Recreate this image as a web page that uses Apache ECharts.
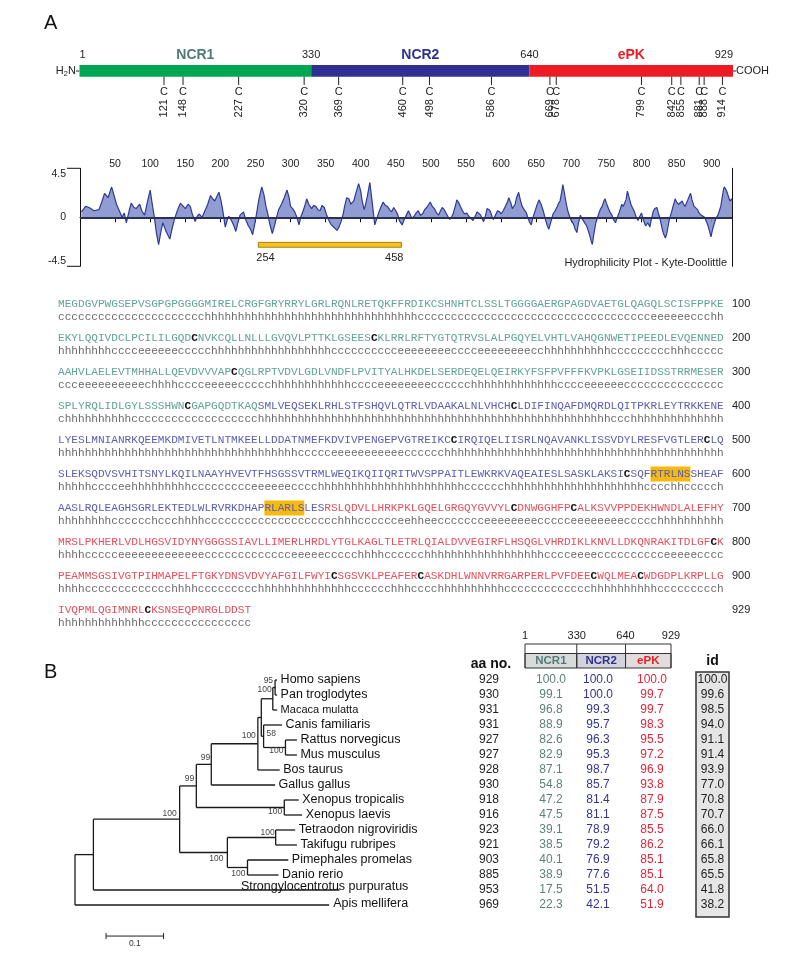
<!DOCTYPE html>
<html>
<head>
<meta charset="utf-8">
<script src="https://cdn.jsdelivr.net/npm/echarts@6.0.0/dist/echarts.min.js"></script>
<style>html,body{margin:0;padding:0;background:#fff}#c{width:794px;height:964px}</style>
</head>
<body>
<div id="c"></div>
<script>
// ---------------- DATA ----------------
const domainNames = ['NCR1', 'NCR2', 'ePK'];
const domainBounds = [1, 330, 640, 929];
const cysPositions = [121, 148, 227, 320, 369, 460, 498, 586, 669, 678, 799, 842, 855, 881, 888, 914];
const rulerTicks = [50, 100, 150, 200, 250, 300, 350, 400, 450, 500, 550, 600, 650, 700, 750, 800, 850, 900];
const hydroLimits = [-4.5, 4.5];
const hydroRange = [254, 458];
const hydroProfile = [
 [2,0.5],[8,1.0],[13,0.9],[20,0.6],[27,0.7],[31,1.4],[35,2.2],[40,1.8],[45,2.8],[49,1.9],[52,1.2],[56,0.6],[60,0.0],[63,0.4],[66,-0.5],[70,0.6],[73,1.3],[77,0.9],[80,0.8],[85,1.2],[88,0.6],[92,0.2],[96,1.4],[100,2.5],[103,1.2],[106,0.0],[109,-1.5],[112,-2.5],[115,-1.4],[118,-0.5],[122,-1.2],[125,-1.6],[128,-2.0],[131,-1.1],[134,-0.3],[138,0.5],[143,1.3],[146,1.1],[150,0.8],[154,1.2],[157,1.0],[160,0.3],[164,-0.4],[167,0.1],[170,0.3],[174,0.0],[178,0.6],[182,1.2],[186,2.0],[189,1.7],[192,1.5],[195,1.9],[198,2.3],[201,1.5],[203,0.8],[207,-0.9],[210,-0.2],[212,0.1],[215,-0.2],[218,-0.6],[220,-0.9],[222,-1.3],[225,-0.5],[228,0.2],[233,0.5],[236,-0.2],[240,-0.8],[243,-1.1],[246,-1.6],[249,-0.6],[252,0.5],[255,1.7],[259,2.8],[262,2.1],[265,1.0],[268,0.2],[270,-0.5],[274,-1.5],[277,-0.8],[280,0.0],[283,0.7],[287,1.2],[291,1.8],[295,2.5],[298,1.8],[300,1.0],[303,0.8],[306,0.5],[309,0.0],[312,-0.7],[315,0.1],[318,0.6],[321,1.2],[323,1.7],[326,1.2],[330,0.8],[333,1.1],[336,1.0],[339,0.7],[342,0.6],[345,1.1],[348,0.9],[351,0.3],[354,-0.2],[357,-0.6],[360,-0.8],[363,-1.0],[366,-1.2],[369,-0.9],[372,-0.4],[375,0.3],[377,1.0],[380,1.8],[383,1.7],[386,1.2],[390,1.5],[393,2.2],[397,3.1],[400,2.4],[402,1.5],[405,0.7],[407,1.2],[409,1.8],[411,2.5],[413,3.2],[415,2.1],[417,1.0],[420,-0.7],[423,-0.1],[426,0.5],[429,1.0],[432,1.4],[435,1.1],[438,1.0],[441,0.7],[444,0.5],[447,0.9],[450,0.6],[453,0.2],[455,-0.3],[459,-0.7],[462,-0.2],[465,0.2],[468,0.6],[470,0.5],[473,-0.1],[476,0.1],[479,0.4],[482,0.6],[485,0.2],[488,0.3],[491,0.7],[494,0.9],[497,1.2],[499,1.4],[502,1.0],[505,0.8],[508,0.4],[511,0.2],[513,0.5],[516,0.9],[519,0.7],[521,0.6],[524,0.1],[527,-0.2],[530,0.1],[532,0.4],[535,1.1],[537,1.6],[540,1.3],[542,1.0],[545,0.6],[548,0.3],[551,0.4],[554,0.1],[557,-0.1],[560,-0.3],[563,0.1],[566,0.5],[568,0.4],[571,0.2],[573,-0.1],[575,-0.4],[578,0.2],[580,0.8],[583,0.7],[585,0.5],[587,0.1],[589,-0.2],[592,0.2],[595,0.6],[598,0.5],[600,0.3],[603,0.6],[606,1.0],[609,1.4],[611,1.8],[614,1.3],[616,0.8],[618,0.9],[620,1.2],[622,1.8],[625,2.3],[627,1.7],[630,1.0],[633,0.7],[636,0.4],[639,-0.2],[641,-0.5],[643,-0.7],[645,-0.1],[648,0.5],[651,1.1],[654,1.6],[657,1.2],[660,0.6],[662,0.1],[664,-0.4],[666,-0.8],[668,-1.1],[671,-0.4],[674,0.3],[677,0.6],[680,1.0],[682,1.3],[684,1.5],[686,2.2],[688,3.0],[690,2.3],[693,1.2],[695,0.6],[698,0.0],[700,-0.3],[703,-0.6],[705,-1.0],[708,-1.4],[710,-0.6],[713,0.2],[715,-0.1],[718,-0.4],[720,-0.6],[722,-0.8],[724,-1.2],[726,-1.6],[728,-2.1],[730,-2.5],[732,-1.6],[735,-0.5],[738,0.1],[740,0.5],[742,0.8],[744,1.0],[746,1.4],[748,1.7],[750,1.3],[753,0.8],[755,0.5],[758,0.2],[760,-0.2],[763,-0.5],[765,-0.1],[768,0.4],[770,0.8],[772,1.2],[774,1.0],[776,0.9],[778,1.6],[780,2.4],[782,1.9],[785,1.2],[787,0.9],[790,0.5],[792,0.1],[795,-0.3],[797,0.0],[800,0.4],[803,-0.3],[806,-0.8],[809,-0.5],[812,-0.9],[814,-0.2],[817,0.6],[819,0.8],[822,0.9],[824,0.4],[826,0.0],[828,-0.6],[830,-1.2],[832,-1.6],[834,-1.9],[836,-1.5],[838,-0.8],[840,-0.1],[843,0.5],[845,1.0],[848,1.7],[850,1.4],[853,1.2],[855,1.3],[858,1.5],[860,1.2],[862,1.0],[864,1.3],[866,1.6],[868,1.9],[870,2.2],[872,1.6],[875,1.0],[877,0.9],[880,0.7],[882,0.4],[885,0.2],[887,0.3],[890,0.0],[892,-0.3],[895,-0.8],[897,-1.3],[899,-1.8],[901,-1.2],[904,-0.5],[906,-0.1],[909,0.2],[911,0.6],[913,1.0],[915,1.8],[917,2.6],[918,2.8],[920,2.6],[922,2.3],[924,1.9],[926,1.5],[929,1.7]
];
const sequenceRows = [
 'MEGDGVPWGSEPVSGPGPGGGGMIRELCRGFGRYRRYLGRLRQNLRETQKFFRDIKCSHNHTCLSSLTGGGGAERGPAGDVAETGLQAGQLSCISFPPKE',
 'EKYLQQIVDCLPCILILGQDCNVKCQLLNLLLGVQVLPTTKLGSEESCKLRRLRFTYGTQTRVSLALPGQYELVHTLVAHQGNWETIPEEDLEVQENNED',
 'AAHVLAELEVTMHHALLQEVDVVVAPCQGLRPTVDVLGDLVNDFLPVITYALHKDELSERDEQELQEIRKYFSFPVFFFKVPKLGSEIIDSSTRRMESER',
 'SPLYRQLIDLGYLSSSHWNCGAPGQDTKAQSMLVEQSEKLRHLSTFSHQVLQTRLVDAAKALNLVHCHCLDIFINQAFDMQRDLQITPKRLEYTRKKENE',
 'LYESLMNIANRKQEEMKDMIVETLNTMKEELLDDATNMEFKDVIVPENGEPVGTREIKCCIRQIQELIISRLNQAVANKLISSVDYLRESFVGTLERCLQ',
 'SLEKSQDVSVHITSNYLKQILNAAYHVEVTFHSGSSVTRMLWEQIKQIIQRITWVSPPAITLEWKRKVAQEAIESLSASKLAKSICSQFRTRLNSSHEAF',
 'AASLRQLEAGHSGRLEKTEDLWLRVRKDHAPRLARLSLESRSLQDVLLHRKPKLGQELGRGQYGVVYLCDNWGGHFPCALKSVVPPDEKHWNDLALEFHY',
 'MRSLPKHERLVDLHGSVIDYNYGGGSSIAVLLIMERLHRDLYTGLKAGLTLETRLQIALDVVEGIRFLHSQGLVHRDIKLKNVLLDKQNRAKITDLGFCK',
 'PEAMMSGSIVGTPIHMAPELFTGKYDNSVDVYAFGILFWYICSGSVKLPEAFERCASKDHLWNNVRRGARPERLPVFDEECWQLMEACWDGDPLKRPLLG',
 'IVQPMLQGIMNRLCKSNSEQPNRGLDDST'
];
// secondary structure prediction, run-length encoded (count + state)
const structureRuns = [
 '22c32h35c6e3c2h',
 '8h4c6e5c18h10c8e4c8e2c10h9c3h5c',
 '3c10e1c4h4c5e5c12h4c8e6c13h4c6e15c',
 '1c10h19c53h3c14h',
 '36h5c11e6c42h',
 '5h4c2e9h9c6e4c22h6c21h4c2h5c1h',
 '8h6c1h3c4h20c3h6c2e2h2e7c8e5c8e5c10h',
 '4h5c13e13c5e5c4h6c18h4c4e10c5e4c',
 '4h13c4h9c14h6c3h4c10h13c10h9c1h',
 '13h16c'
];
const highlightRanges = [[590, 595], [632, 637]];

const species = ['Homo sapiens','Pan troglodytes','Macaca mulatta','Canis familiaris','Rattus norvegicus','Mus musculus','Bos taurus','Gallus gallus','Xenopus tropicalis','Xenopus laevis','Tetraodon nigroviridis','Takifugu rubripes','Pimephales promelas','Danio rerio','Strongylocentrotus purpuratus','Apis mellifera'];
const aaLength   = [929, 930, 931, 931, 927, 927, 928, 930, 918, 916, 923, 921, 903, 885, 953, 969];
const identNCR1  = [100.0, 99.1, 96.8, 88.9, 82.6, 82.9, 87.1, 54.8, 47.2, 47.5, 39.1, 38.5, 40.1, 38.9, 17.5, 22.3];
const identNCR2  = [100.0, 100.0, 99.3, 95.7, 96.3, 95.3, 98.7, 85.7, 81.4, 81.1, 78.9, 79.2, 76.9, 77.6, 51.5, 42.1];
const identEPK   = [100.0, 99.7, 99.7, 98.3, 95.5, 97.2, 96.9, 93.8, 87.9, 87.5, 85.5, 86.2, 85.1, 85.1, 64.0, 51.9];
const identTotal = [100.0, 99.6, 98.5, 94.0, 91.1, 91.4, 93.9, 77.0, 70.8, 70.7, 66.0, 66.1, 65.8, 65.5, 41.8, 38.2];

const treeNodes = ['root','n1','Apis mellifera','nv','Strongylocentrotus purpuratus','nt','nfish','na','nx','nm','Gallus gallus','nq','Bos taurus','nprim','n58','nhp','Macaca mulatta','Homo sapiens','Pan troglodytes','Canis familiaris','nrod','Rattus norvegicus','Mus musculus','Xenopus tropicalis','Xenopus laevis','ntt','npd','Tetraodon nigroviridis','Takifugu rubripes','Pimephales promelas','Danio rerio'];
const treeParents = [null,'root','root','n1','n1','nv','nv','nt','nt','na','na','nm','nm','nq','nq','nprim','nprim','nhp','nhp','n58','n58','nrod','nrod','nx','nx','nfish','nfish','ntt','ntt','npd','npd'];
const branchLengths = [0,0.032,0.442,0.150,0.428,0.029,0.083,0.026,0.153,0.081,0.111,0.006,0.038,0.020,0.004,0.004,0.0075,0.0035,0.0035,0.032,0.038,0.020,0.020,0.025,0.031,0.084,0.035,0.034,0.037,0.071,0.054];
const bootstrapNodes = ['nv','nt','na','nm','nprim','nhp','n58','nrod','nx','nfish','ntt','npd'];
const bootstrapValues = [100, 99, 99, 100, 100, 95, 58, 100, 100, 100, 100, 100];
const scaleBarLength = 0.1;

// ---------------- STYLE / LAYOUT ----------------
const SANS = "'Liberation Sans', Arial, Helvetica, sans-serif";
const MONO = "'Liberation Mono', 'Courier New', monospace";
const barColors = ['#00a651', '#2e3192', '#ed1c24'];
const nameColors = ['#4f7d76', '#2e3192', '#ed1c24'];
const seqColors = ['#62a395', '#5b5eae', '#e5505d'];
const tableColors = ['#222', '#5e807a', '#34348f', '#e3263a', '#222'];
const cellFill = ['#d9dbdb', '#d3d3dc', '#e2dcdc'];
const tableColX = [489, 551, 598, 652, 712.5];
const bootLayout = {nhp:[-2,-7,'right'], nprim:[-1,-9,'right'], n58:[3,-3,'left'], nrod:[-2,3,'right'], nm:[-2,-8,'right'], na:[-1,-7,'right'], nt:[-2,-7,'right'], nx:[-2,4,'right'], nv:[-3,-6,'right'], ntt:[-1,-5,'right'], nfish:[-4,6,'right'], npd:[-2,6,'right']};
const leafLabelShift = {'Strongylocentrotus purpuratus':[-98.6,-3.5], 'Apis mellifera':[4,-1]};
const leafFont = {'Macaca mulatta': 11};

const structureRows = structureRuns.map(s => s.replace(/(\d+)([a-z])/g, (m, n, ch) => ch.repeat(+n)));

// tree layout
const nIdx = {}; treeNodes.forEach((n, i) => nIdx[n] = i);
const kids = treeNodes.map(() => []);
treeParents.forEach((p, i) => { if (p) kids[nIdx[p]].push(i); });
const nodeX = [], nodeY = [];
(function layX(i, acc) { nodeX[i] = acc + branchLengths[i]; kids[i].forEach(c => layX(c, nodeX[i])); })(0, 0);
(function layY(i) {
  if (!kids[i].length) { nodeY[i] = species.indexOf(treeNodes[i]); return nodeY[i]; }
  const ys = kids[i].map(layY);
  nodeY[i] = (Math.min(...ys) + Math.max(...ys)) / 2; return nodeY[i];
})(0);

function rowRich(r) {
  const seq = sequenceRows[r], start = r * 100 + 1;
  let out = '', cur = null, buf = '';
  for (let k = 0; k < seq.length; k++) {
    const pos = start + k;
    let st;
    if (cysPositions.includes(pos)) st = 'cy';
    else if (highlightRanges.some(h => pos >= h[0] && pos <= h[1])) st = 'hl';
    else st = pos <= domainBounds[1] ? 'd1' : (pos <= domainBounds[2] ? 'd2' : 'd3');
    if (st !== cur) { if (buf) out += '{' + cur + '|' + buf + '}'; cur = st; buf = ''; }
    buf += seq[k];
  }
  if (buf) out += '{' + cur + '|' + buf + '}';
  return out;
}
const SEQ_FS = 11.1;
const seqRich = {
  d1: {fill: seqColors[0], fontFamily: MONO, fontSize: SEQ_FS},
  d2: {fill: seqColors[1], fontFamily: MONO, fontSize: SEQ_FS},
  d3: {fill: seqColors[2], fontFamily: MONO, fontSize: SEQ_FS},
  cy: {fill: '#111', fontFamily: MONO, fontSize: SEQ_FS, fontWeight: 'bold'},
  hl: {fill: seqColors[1], fontFamily: MONO, fontSize: SEQ_FS, backgroundColor: '#f7b90f', padding: [2, 0, 2, 0]}
};

const chart = echarts.init(document.getElementById('c'), null, {renderer: 'canvas', width: 794, height: 964});

const lineStyle = {stroke: '#1a1a1a', lineWidth: 1.3};

const option = {
  backgroundColor: '#fff',
  animation: false,
  grid: [
    {left: 79.5, right: 61, top: 65, height: 11.7},          // 0 domain bar
    {left: 80, right: 62, top: 168.3, height: 98},           // 1 hydrophilicity
    {left: 58, right: 70, top: 304, height: 306},            // 2 sequence
    {left: 75, width: 575, top: 680, height: 225},           // 3 tree
    {left: 0, right: 0, top: 680, height: 225},              // 4 table
    {left: 525, width: 146, top: 644, height: 24}            // 5 table header
  ],
  xAxis: [
    {gridIndex: 0, type: 'value', min: 1, max: 929, show: false},
    {gridIndex: 1, type: 'value', min: 0, max: 929, interval: 50, position: 'top', offset: 15,
     axisLine: {show: true, lineStyle: {color: '#111', width: 1}},
     axisTick: {show: true, inside: true, length: 5, lineStyle: {color: '#111'}},
     axisLabel: {inside: true, margin: 5, fontSize: 10.5, fontFamily: SANS, color: '#222',
       formatter: v => rulerTicks.includes(v) ? String(v) : ''},
     splitLine: {show: false}},
    {gridIndex: 2, type: 'value', min: 0, max: 100, show: false},
    {gridIndex: 3, type: 'value', min: 0, max: 1, show: false},
    {gridIndex: 4, type: 'value', min: 0, max: 794, show: false},
    {gridIndex: 5, type: 'value', min: 1, max: 929, show: false}
  ],
  yAxis: [
    {gridIndex: 0, type: 'value', min: 0, max: 1, show: false},
    {gridIndex: 1, type: 'value', min: -4.5, max: 4.5, interval: 4.5,
     axisLine: {show: true, lineStyle: {color: '#111', width: 1}},
     axisTick: {show: false},
     axisLabel: {margin: 14, fontSize: 10.5, fontFamily: SANS, color: '#222',
       verticalAlignMinLabel: 'bottom', verticalAlignMaxLabel: 'top'},
     splitLine: {show: false}},
    {gridIndex: 1, type: 'value', min: -4.5, max: 4.5, position: 'right',
     axisLine: {show: true, lineStyle: {color: '#111', width: 1}},
     axisTick: {show: false}, axisLabel: {show: false}, splitLine: {show: false}},
    {gridIndex: 2, type: 'value', min: 0, max: 9, inverse: true, show: false},
    {gridIndex: 3, type: 'value', min: 0, max: 15, inverse: true, show: false},
    {gridIndex: 4, type: 'value', min: 0, max: 15, inverse: true, show: false},
    {gridIndex: 5, type: 'value', min: 0, max: 1, show: false}
  ],
  graphic: [
    {type: 'text', x: 44, y: 23, style: {text: 'A', font: '20px ' + SANS, fill: '#111', verticalAlign: 'middle'}},
    {type: 'text', x: 44, y: 672.5, style: {text: 'B', font: '20px ' + SANS, fill: '#111', verticalAlign: 'middle'}},
    {type: 'text', x: 76, y: 71, style: {text: '{a|H}{b|2}{a|N}', align: 'right', verticalAlign: 'middle',
      rich: {a: {fontSize: 11, fontFamily: SANS, fill: '#222'}, b: {fontSize: 8, fontFamily: SANS, fill: '#222', padding: [5, 0, 0, 0]}}}},
    {type: 'line', shape: {x1: 76, y1: 71, x2: 79.5, y2: 71}, style: {stroke: '#222', lineWidth: 1}},
    {type: 'line', shape: {x1: 733, y1: 71, x2: 736, y2: 71}, style: {stroke: '#222', lineWidth: 1}},
    {type: 'text', x: 736, y: 71, style: {text: 'COOH', font: '11px ' + SANS, fill: '#222', verticalAlign: 'middle'}},
    {type: 'text', x: 727, y: 262.7, style: {text: 'Hydrophilicity Plot - Kyte-Doolittle', font: '11px ' + SANS, fill: '#222', align: 'right', verticalAlign: 'middle'}},
    {type: 'text', x: 491, y: 664, style: {text: 'aa no.', font: 'bold 14px ' + SANS, fill: '#111', align: 'center', verticalAlign: 'middle'}},
    {type: 'text', x: 712.5, y: 661, style: {text: 'id', font: 'bold 14px ' + SANS, fill: '#111', align: 'center', verticalAlign: 'middle'}}
  ],
  series: [
    // domain bar
    {type: 'custom', xAxisIndex: 0, yAxisIndex: 0, silent: true,
     data: domainNames.map((n, k) => [domainBounds[k], domainBounds[k + 1], k]),
     renderItem: (params, api) => {
       const s = api.value(0), e = api.value(1), k = api.value(2);
       const tl = api.coord([s, 1]), br = api.coord([e, 0]);
       const ch = [
         {type: 'rect', shape: {x: tl[0], y: tl[1], width: br[0] - tl[0], height: br[1] - tl[1]}, style: {fill: barColors[k]}},
         {type: 'text', x: (tl[0] + br[0]) / 2, y: tl[1] - 10, style: {text: domainNames[k], font: 'bold 14px ' + SANS, fill: nameColors[k], align: 'center', verticalAlign: 'middle'}},
         {type: 'text', x: tl[0], y: tl[1] - 10, style: {text: String(s), font: '11px ' + SANS, fill: '#222', align: k === 0 ? 'left' : 'center', verticalAlign: 'middle'}}
       ];
       if (k === domainNames.length - 1) ch.push({type: 'text', x: br[0], y: tl[1] - 10, style: {text: String(e), font: '11px ' + SANS, fill: '#222', align: 'right', verticalAlign: 'middle'}});
       return {type: 'group', children: ch};
     }},
    // cysteines
    {type: 'custom', xAxisIndex: 0, yAxisIndex: 0, silent: true,
     data: cysPositions.map(c => [c, 0]),
     renderItem: (params, api) => {
       const p = api.coord([api.value(0), 0]);
       return {type: 'group', children: [
         {type: 'line', shape: {x1: p[0], y1: p[1], x2: p[0], y2: p[1] + 8.3}, style: {stroke: '#222', lineWidth: 1}},
         {type: 'text', x: p[0], y: p[1] + 15, style: {text: 'C', font: '11px ' + SANS, fill: '#222', align: 'center', verticalAlign: 'middle'}},
         {type: 'text', x: p[0], y: p[1] + 31.5, rotation: Math.PI / 2, style: {text: String(api.value(0)), font: '11px ' + SANS, fill: '#222', align: 'center', verticalAlign: 'middle'}}
       ]};
     }},
    // hydrophilicity
    {type: 'line', xAxisIndex: 1, yAxisIndex: 1, data: hydroProfile, symbol: 'none', silent: true,
     lineStyle: {color: '#2d3a96', width: 1.2},
     areaStyle: {color: '#8591cd', opacity: 0.9},
     markLine: {silent: true, symbol: ['none', 'none'], label: {show: false},
       lineStyle: {color: '#2b2f55', width: 2, type: 'solid'}, data: [{yAxis: 0}]},
     markArea: {silent: true, label: {show: false},
       itemStyle: {color: '#f6c21c', borderColor: '#a8800c', borderWidth: 1, opacity: 1},
       data: [[{xAxis: hydroRange[0], yAxis: -2.3}, {xAxis: hydroRange[1], yAxis: -2.75}]]}},
    // y-axis bracket ticks at the limits
    {type: 'custom', xAxisIndex: 1, yAxisIndex: 1, silent: true,
     data: hydroLimits.map(v => [0, v]),
     renderItem: (params, api) => {
       const p = api.coord([0, api.value(1)]);
       return {type: 'line', shape: {x1: p[0] - 13, y1: p[1], x2: p[0], y2: p[1]}, style: {stroke: '#111', lineWidth: 1}};
     }},
    {type: 'custom', xAxisIndex: 1, yAxisIndex: 1, silent: true,
     data: hydroRange.map((v, i) => [v, -3.69, i]),
     renderItem: (params, api) => {
       const p = api.coord([api.value(0), api.value(1)]);
       return {type: 'text', x: p[0] + (api.value(2) === 0 ? -2 : 2), y: p[1], style: {text: String(api.value(0)), font: '11px ' + SANS, fill: '#222', align: api.value(2) === 0 ? 'left' : 'right', verticalAlign: 'middle'}};
     }},
    // sequence
    {type: 'custom', xAxisIndex: 2, yAxisIndex: 3, silent: true,
     data: sequenceRows.map((s, i) => [0, i]),
     renderItem: (params, api) => {
       const r = api.value(1);
       const p = api.coord([0, r]);
       const pe = api.coord([100, r]);
       const endNo = r * 100 + sequenceRows[r].length;
       return {type: 'group', children: [
         {type: 'text', x: p[0], y: p[1], style: {text: rowRich(r), rich: seqRich, align: 'left', verticalAlign: 'middle', fontFamily: MONO, fontSize: SEQ_FS}},
         {type: 'text', x: p[0], y: p[1] + 12.8, style: {text: structureRows[r], fill: '#6a6a6a', fontFamily: MONO, fontSize: SEQ_FS, align: 'left', verticalAlign: 'middle'}},
         {type: 'text', x: pe[0] + 8, y: p[1], style: {text: String(endNo), font: '11px ' + SANS, fill: '#222', align: 'left', verticalAlign: 'middle'}}
       ]};
     }},
    // tree
    {type: 'custom', xAxisIndex: 3, yAxisIndex: 4, silent: true,
     data: treeNodes.map((n, i) => [nodeX[i], nodeY[i], i]),
     renderItem: (params, api) => {
       const i = api.value(2);
       const p = api.coord([nodeX[i], nodeY[i]]);
       const ch = [];
       if (treeParents[i]) {
         const pp = api.coord([nodeX[nIdx[treeParents[i]]], nodeY[i]]);
         ch.push({type: 'line', shape: {x1: pp[0], y1: p[1], x2: p[0], y2: p[1]}, style: lineStyle});
       }
       if (kids[i].length) {
         const ys = kids[i].map(c => nodeY[c]);
         const a = api.coord([nodeX[i], Math.min(...ys)]), b = api.coord([nodeX[i], Math.max(...ys)]);
         ch.push({type: 'line', shape: {x1: p[0], y1: a[1], x2: p[0], y2: b[1]}, style: lineStyle});
         const bi = bootstrapNodes.indexOf(treeNodes[i]);
         if (bi >= 0) {
           const L = bootLayout[treeNodes[i]];
           ch.push({type: 'text', x: p[0] + L[0], y: p[1] + L[1], style: {text: String(bootstrapValues[bi]), font: '8.5px ' + SANS, fill: '#444', align: L[2], verticalAlign: 'middle'}});
         }
       } else {
         const name = treeNodes[i];
         const sh = leafLabelShift[name] || [3.5, 0];
         ch.push({type: 'text', x: p[0] + sh[0], y: p[1] + sh[1], style: {text: name, font: (leafFont[name] || 12.5) + 'px ' + SANS, fill: '#111', align: 'left', verticalAlign: 'middle'}});
       }
       return {type: 'group', children: ch};
     }},
    // scale bar
    {type: 'custom', xAxisIndex: 3, yAxisIndex: 4, silent: true,
     data: [[0.054, 17.07]],
     renderItem: (params, api) => {
       const a = api.coord([api.value(0), api.value(1)]);
       const b = api.coord([api.value(0) + scaleBarLength, api.value(1)]);
       const st = {stroke: '#222', lineWidth: 1};
       return {type: 'group', children: [
         {type: 'line', shape: {x1: a[0], y1: a[1], x2: b[0], y2: b[1]}, style: st},
         {type: 'line', shape: {x1: a[0], y1: a[1] - 3, x2: a[0], y2: a[1] + 3}, style: st},
         {type: 'line', shape: {x1: b[0], y1: b[1] - 3, x2: b[0], y2: b[1] + 3}, style: st},
         {type: 'text', x: (a[0] + b[0]) / 2, y: a[1] + 8, style: {text: String(scaleBarLength), font: '8.5px ' + SANS, fill: '#333', align: 'center', verticalAlign: 'middle'}}
       ]};
     }},
    // id box
    {type: 'custom', xAxisIndex: 4, yAxisIndex: 5, silent: true, z: 1,
     data: [[tableColX[4], -0.53, 15.8]],
     renderItem: (params, api) => {
       const a = api.coord([api.value(0), api.value(1)]);
       const b = api.coord([api.value(0), api.value(2)]);
       return {type: 'rect', shape: {x: a[0] - 16.5, y: a[1], width: 33, height: b[1] - a[1]}, style: {fill: '#e5e5e5', stroke: '#333', lineWidth: 1.5}};
     }},
    // table cells
    {type: 'custom', xAxisIndex: 4, yAxisIndex: 5, silent: true, z: 3,
     data: [].concat(
       aaLength.map((v, i) => [tableColX[0], i, v, 0]),
       identNCR1.map((v, i) => [tableColX[1], i, v, 1]),
       identNCR2.map((v, i) => [tableColX[2], i, v, 2]),
       identEPK.map((v, i) => [tableColX[3], i, v, 3]),
       identTotal.map((v, i) => [tableColX[4], i, v, 4])
     ),
     renderItem: (params, api) => {
       const p = api.coord([api.value(0), api.value(1)]);
       const c = api.value(3), v = api.value(2);
       return {type: 'text', x: p[0], y: p[1], style: {text: c === 0 ? String(v) : v.toFixed(1), font: '12px ' + SANS, fill: tableColors[c], align: 'center', verticalAlign: 'middle'}};
     }},
    // table header map
    {type: 'custom', xAxisIndex: 5, yAxisIndex: 6, silent: true,
     data: domainNames.map((n, k) => [domainBounds[k], domainBounds[k + 1], k]),
     renderItem: (params, api) => {
       const s = api.value(0), e = api.value(1), k = api.value(2);
       const tl = api.coord([s, 1]), bl = api.coord([s, 0]), br = api.coord([e, 0]), tr = api.coord([e, 1]);
       const boxTop = bl[1] - 14.5;
       const st = {stroke: '#333', lineWidth: 1};
       const ch = [
         {type: 'rect', shape: {x: bl[0], y: boxTop, width: br[0] - bl[0], height: bl[1] - boxTop}, style: {fill: cellFill[k], stroke: '#333', lineWidth: 1}},
         {type: 'line', shape: {x1: tl[0], y1: tl[1], x2: tr[0], y2: tr[1]}, style: st},
         {type: 'line', shape: {x1: tl[0], y1: tl[1], x2: bl[0], y2: bl[1]}, style: st},
         {type: 'text', x: (bl[0] + br[0]) / 2, y: (boxTop + bl[1]) / 2, style: {text: domainNames[k], font: 'bold 11.5px ' + SANS, fill: nameColors[k], align: 'center', verticalAlign: 'middle'}},
         {type: 'text', x: tl[0], y: tl[1] - 8, style: {text: String(s), font: '11px ' + SANS, fill: '#222', align: 'center', verticalAlign: 'middle'}}
       ];
       if (k === domainNames.length - 1) {
         ch.push({type: 'line', shape: {x1: tr[0], y1: tr[1], x2: br[0], y2: br[1]}, style: st});
         ch.push({type: 'text', x: tr[0], y: tr[1] - 8, style: {text: String(e), font: '11px ' + SANS, fill: '#222', align: 'center', verticalAlign: 'middle'}});
       }
       return {type: 'group', children: ch};
     }}
  ]
};
chart.setOption(option);
</script>
</body>
</html>
